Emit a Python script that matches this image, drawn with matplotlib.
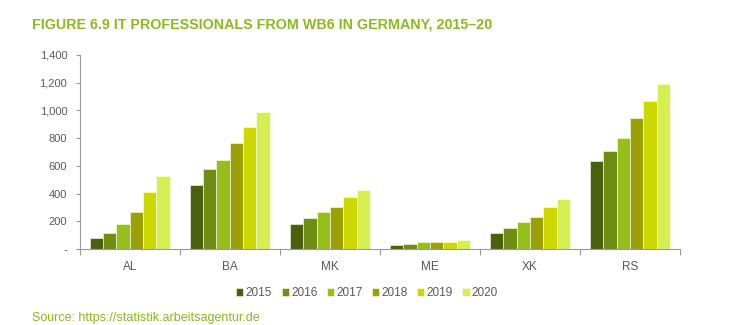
import matplotlib
matplotlib.use("Agg")
import matplotlib.pyplot as plt
import numpy as np

plt.rcParams['font.family'] = ['Liberation Sans', 'DejaVu Sans']

categories = ["AL", "BA", "MK", "ME", "XK", "RS"]
years = ["2015", "2016", "2017", "2018", "2019", "2020"]
values = {
    "2015": [77, 462, 180, 29, 118, 635],
    "2016": [118, 575, 226, 36, 154, 710],
    "2017": [178, 645, 265, 50, 195, 799],
    "2018": [265, 763, 303, 50, 229, 948],
    "2019": [414, 883, 378, 53, 303, 1064],
    "2020": [527, 987, 428, 67, 363, 1191],
}
yticks = [0, 200, 400, 600, 800, 1000, 1200, 1400]
ytick_labels = ["-", "200", "400", "600", "800", "1,000", "1,200", "1,400"]
colors = ["#4b600c", "#6f8d14", "#96bf1c", "#9b9f08", "#cdd700", "#d5ef52"]

fig = plt.figure(figsize=(7.39, 3.25), dpi=100)
ax = fig.add_axes([0.108, 0.234, 0.812, 0.597])

x = np.arange(len(categories))
n = len(years)
group_w = 0.8
bw = group_w / n
for i, yr in enumerate(years):
    ax.bar(x - group_w / 2 + bw * (i + 0.5), values[yr], width=bw,
           color=colors[i], edgecolor="white", linewidth=0.4, label=yr)

ax.set_xlim(-0.5, len(categories) - 0.5)
ax.set_ylim(0, 1400)
ax.set_yticks(yticks)
ax.set_yticklabels(ytick_labels)
ax.set_xticks(x)
ax.set_xticklabels(categories)
ax.set_xticks(np.arange(-0.5, len(categories)), minor=True)
ax.tick_params(axis='x', which='major', length=0, pad=9, labelsize=8.5, colors="#595959")
ax.tick_params(axis='x', which='minor', length=4, color="#999999", width=0.8)
ax.tick_params(axis='y', length=3, width=0.8, labelsize=8, colors="#595959", pad=6)
ax.tick_params(axis='y', color="#999999")
for s in ["top", "right"]:
    ax.spines[s].set_visible(False)
for s in ["left", "bottom"]:
    ax.spines[s].set_color("#999999")
    ax.spines[s].set_linewidth(0.8)

fig.text(0.043, 0.925, "FIGURE 6.9 IT PROFESSIONALS FROM WB6 IN GERMANY, 2015\u201320",
         color="#8cb91e", fontsize=10.3, fontweight="bold", va="center", ha="left")

leg = fig.legend(loc="center", bbox_to_anchor=(0.497, 0.098), ncol=6, frameon=False,
                 fontsize=8.5, handlelength=0.6, handleheight=0.6, handletextpad=0.2,
                 columnspacing=0.8, labelcolor="#595959")

fig.text(0.043, 0.004, "Source: https://statistik.arbeitsagentur.de",
         color="#8cb91e", fontsize=9, va="bottom", ha="left")

fig.savefig("out.png", dpi=100)
